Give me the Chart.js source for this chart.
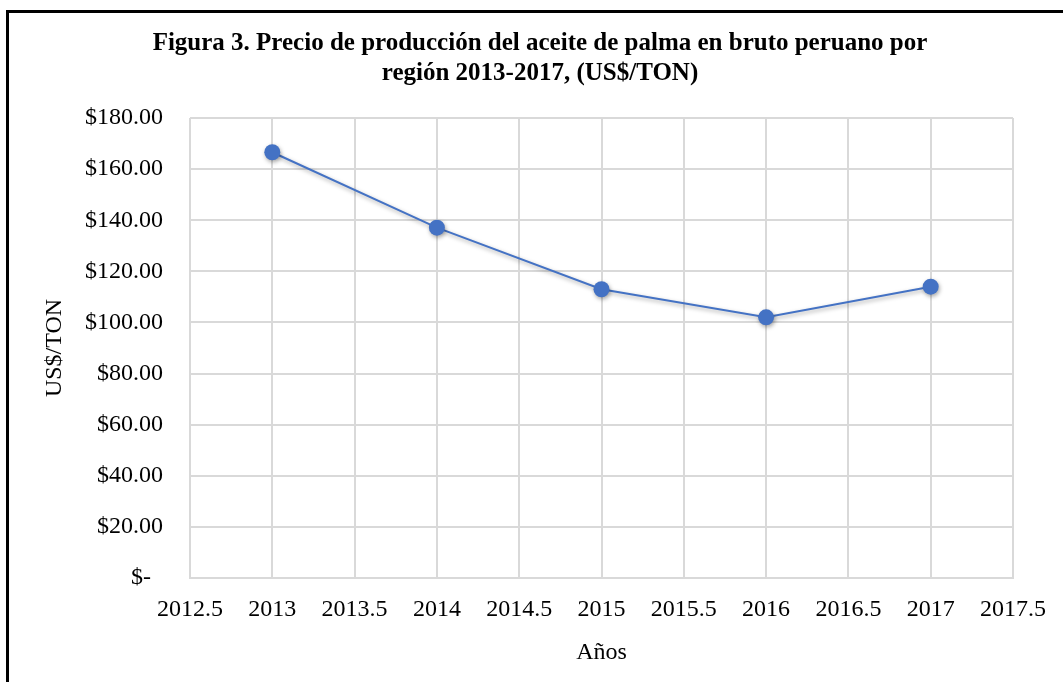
<!DOCTYPE html>
<html>
<head>
<meta charset="utf-8">
<script src="https://cdn.jsdelivr.net/npm/chart.js@4"></script>
<style>
    html, body { margin: 0; padding: 0; background: #ffffff; overflow: hidden; }
    #marco { position: absolute; left: 6px; top: 10px; width: 1200px; height: 800px;
             border-left: 3px solid #000; border-top: 3px solid #000; }
    #contenedor { position: absolute; left: 0; top: 0; width: 1063px; height: 682px; }
</style>
</head>
<body>
<div id="marco"></div>
<div id="contenedor"><canvas id="grafica"></canvas></div>
<script>
const anios = [2013, 2014, 2015, 2016, 2017];
const precios = [166.6, 137.1, 113.0, 102.0, 114.0];
const etiquetasY = ["$-  ", "$20.00", "$40.00", "$60.00", "$80.00", "$100.00", "$120.00", "$140.00", "$160.00", "$180.00"];
const tituloGrafica = ["Figura 3. Precio de producción del aceite de palma en bruto peruano por", "región 2013-2017, (US$/TON)"];

const fuente = "'Liberation Serif', 'Times New Roman', serif";
const colorLinea = "#4472C4";
const colorRejilla = "#d9d9d9";

// sombra suave bajo la linea y los marcadores, como en Excel
const sombra = {
    id: "sombra",
    beforeDatasetsDraw(chart){
        const ctx = chart.ctx;
        ctx.save();
        ctx.shadowColor = "rgba(0,0,0,0.35)";
        ctx.shadowBlur = 4;
        ctx.shadowOffsetX = 1;
        ctx.shadowOffsetY = 2;
    },
    afterDatasetsDraw(chart){
        chart.ctx.restore();
    }
};

const puntos = anios.map((a, i) => ({x: a, y: precios[i]}));

const grafica = new Chart("grafica", {
    type: "line",
    data: {
        datasets: [{
            label: "Precio",
            data: puntos,
            borderColor: colorLinea,
            borderWidth: 2,
            backgroundColor: colorLinea,
            pointRadius: 8,
            pointHoverRadius: 8,
            pointBorderWidth: 0,
            tension: 0
        }]
    },
    plugins: [sombra],
    options: {
        responsive: true,
        maintainAspectRatio: false,
        animation: false,
        // el titulo queda centrado entre x=65 y el borde derecho del area
        layout: {
            padding: {left: 65, right: 48, top: 0, bottom: 0}
        },
        plugins: {
            legend: {display: false},
            tooltip: {enabled: false},
            title: {
                display: true,
                text: tituloGrafica,
                color: "#000",
                font: {family: fuente, size: 25, weight: "bold", lineHeight: 1.2},
                padding: {top: 29, bottom: 29}
            }
        },
        scales: {
            x: {
                type: "linear",
                min: 2012.5,
                max: 2017.5,
                grid: {color: colorRejilla, lineWidth: 2, drawTicks: false},
                border: {color: colorRejilla, width: 2},
                ticks: {
                    stepSize: 0.5,
                    padding: 17,
                    color: "#000",
                    font: {family: fuente, size: 24},
                    callback: (valor) => String(valor)
                },
                title: {
                    display: true,
                    text: "Años",
                    color: "#000",
                    font: {family: fuente, size: 24},
                    padding: {top: 14, bottom: 15}
                },
                afterFit: (escala) => { escala.height = 104; }
            },
            y: {
                min: 0,
                max: 180,
                grid: {color: colorRejilla, lineWidth: 2, drawTicks: false},
                border: {display: false},
                ticks: {
                    stepSize: 20,
                    padding: 27,
                    color: "#000",
                    font: {family: fuente, size: 24},
                    callback: (valor, indice) => etiquetasY[indice]
                },
                title: {
                    display: true,
                    text: "US$/TON",
                    color: "#000",
                    font: {family: fuente, size: 24},
                    padding: {top: -25, bottom: 0}
                },
                afterFit: (escala) => { escala.width = 125; }
            }
        }
    }
});
</script>
</body>
</html>
